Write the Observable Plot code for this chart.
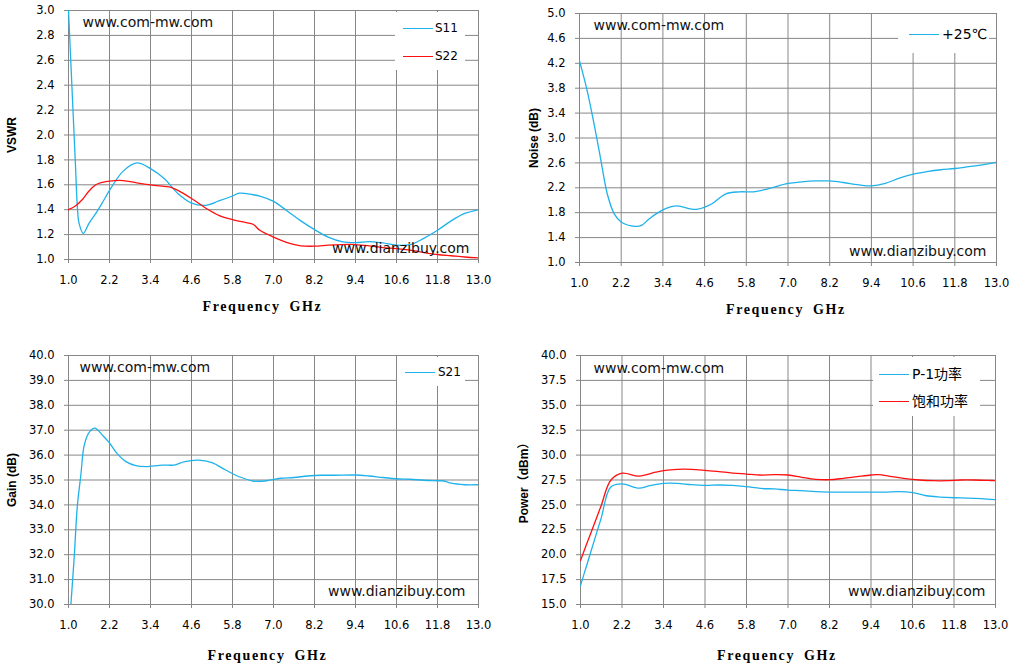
<!DOCTYPE html>
<html>
<head>
<meta charset="utf-8">
<script src="https://cdn.jsdelivr.net/npm/d3@7"></script>
<script src="https://cdn.jsdelivr.net/npm/@observablehq/plot@0.6"></script>
<style>
  html, body { margin: 0; padding: 0; background: #fff; }
  #root { position: relative; width: 1014px; height: 667px; overflow: hidden; background: #fff; }
  .panel { position: absolute; }
  .legend { position: absolute; background: #fff; }
  .lg-line { position: absolute; height: 0; border-top: 1.3px solid; }
  .lg-text { position: absolute; font-family: "DejaVu Sans", "Noto Sans CJK SC", sans-serif; font-size: 12px; color: #000; line-height: 16px; white-space: nowrap; }
  .lg-text.cjk { font-family: "DejaVu Sans", "Noto Sans CJK SC", sans-serif; font-size: 14px; }
</style>
</head>
<body>
<div id="root"></div>
<script>
// ---------- tick labels ----------
const freqTicks = [1.0, 2.2, 3.4, 4.6, 5.8, 7.0, 8.2, 9.4, 10.6, 11.8, 13.0];
const vswrTicks = [1.0, 1.2, 1.4, 1.6, 1.8, 2.0, 2.2, 2.4, 2.6, 2.8, 3.0];
const noiseTicks = [1.0, 1.4, 1.8, 2.2, 2.6, 3.0, 3.4, 3.8, 4.2, 4.6, 5.0];
const gainTicks = [30, 31, 32, 33, 34, 35, 36, 37, 38, 39, 40];
const powerTicks = [15, 17.5, 20, 22.5, 25, 27.5, 30, 32.5, 35, 37.5, 40];

// ---------- series ----------
const s11Freq = [1.0,1.1,1.2,1.26,1.31,1.43,1.6,1.8,2.0,2.2,2.6,3.0,3.4,3.8,4.2,4.6,5.0,5.4,5.8,6.0,6.4,6.6,7.0,7.4,7.8,8.2,8.6,9.0,9.4,9.8,10.2,10.6,11.0,11.4,11.8,12.2,12.6,13.0];
const s11Vals = [3.0,2.39,1.78,1.42,1.29,1.21,1.29,1.37,1.46,1.555,1.71,1.776,1.73,1.65,1.53,1.453,1.435,1.47,1.51,1.533,1.52,1.51,1.467,1.39,1.31,1.24,1.18,1.144,1.136,1.144,1.133,1.115,1.12,1.17,1.235,1.31,1.37,1.40];

const s22Freq = [1.0,1.2,1.4,1.6,1.8,2.0,2.2,2.6,3.0,3.4,3.8,4.0,4.2,4.6,5.0,5.4,5.8,6.2,6.4,6.6,7.0,7.4,7.8,8.2,8.6,9.0,9.4,9.8,10.2,10.6,11.0,11.4,11.8,12.2,12.6,13.0];
const s22Vals = [1.40,1.43,1.48,1.55,1.60,1.62,1.63,1.634,1.616,1.60,1.587,1.58,1.555,1.49,1.416,1.355,1.32,1.296,1.283,1.235,1.18,1.136,1.11,1.107,1.115,1.12,1.12,1.11,1.096,1.088,1.075,1.056,1.04,1.03,1.02,1.013];

const noiseFreq = [1.0,1.2,1.4,1.6,1.8,2.0,2.2,2.6,2.8,3.0,3.4,3.8,4.2,4.4,4.8,5.2,5.6,6.0,6.4,7.0,7.4,7.8,8.2,8.6,9.0,9.4,9.8,10.2,10.6,11.0,11.4,11.8,12.2,12.6,13.0];
const noiseVals = [4.24,3.81,3.28,2.69,2.10,1.78,1.65,1.58,1.60,1.70,1.846,1.91,1.86,1.857,1.94,2.10,2.135,2.135,2.18,2.27,2.296,2.31,2.31,2.285,2.25,2.23,2.27,2.355,2.42,2.46,2.49,2.51,2.54,2.57,2.61];

const s21Freq = [1.07,1.17,1.26,1.36,1.46,1.61,1.77,2.0,2.2,2.43,2.68,2.97,3.26,3.75,4.08,4.4,4.8,5.2,5.6,6.0,6.4,6.8,7.2,7.6,8.0,8.4,8.8,9.4,9.8,10.2,10.6,11.0,11.4,11.8,12.0,12.2,12.6,13.0];
const s21Vals = [30.0,31.97,33.98,35.18,36.39,36.92,37.08,36.79,36.49,36.05,35.74,35.58,35.54,35.6,35.6,35.74,35.8,35.7,35.4,35.13,34.96,34.97,35.07,35.1,35.16,35.19,35.19,35.2,35.16,35.1,35.05,35.03,34.99,34.97,34.96,34.87,34.81,34.81];

const p1Freq = [1.0,1.2,1.4,1.6,1.87,2.2,2.69,3.0,3.4,3.8,4.2,4.6,5.0,5.4,5.8,6.2,6.6,7.0,7.4,7.8,8.2,9.0,9.8,10.2,10.6,11.0,11.4,11.8,12.2,12.6,13.0];
const p1Vals = [16.9,19.17,21.44,23.7,26.78,27.11,26.68,26.93,27.16,27.16,27.03,26.96,27.0,26.96,26.83,26.66,26.6,26.49,26.43,26.33,26.29,26.29,26.29,26.33,26.23,25.92,25.79,25.72,25.69,25.62,25.52];

const psatFreq = [1.0,1.2,1.4,1.6,1.87,2.2,2.69,3.17,3.4,3.8,4.2,4.6,5.0,5.4,5.8,6.2,6.6,7.0,7.4,7.8,8.2,8.6,9.0,9.4,9.6,10.0,10.4,10.8,11.2,11.6,12.0,12.4,12.8,13.0];
const psatVals = [19.42,21.27,23.1,24.95,27.45,28.18,27.88,28.28,28.44,28.57,28.57,28.47,28.34,28.2,28.1,28.0,28.03,28.0,27.77,27.57,27.53,27.67,27.84,28.0,28.03,27.84,27.63,27.5,27.43,27.43,27.5,27.5,27.46,27.43];

// ---------- text ----------
const xTitle = "Frequency GHz";
const wmTop = "www.com-mw.com";
const wmBottom = "www.dianzibuy.com";

const CYAN = "#1fb2ea";
const RED = "#ff1010";
const GRID = "#878787";

function rows(f, v) { return f.map((x, i) => ({f: x, v: v[i]})); }

const panels = [
  {
    left: 0, top: 0, h: 333, m: [10, 29, 74, 68],
    yTicks: vswrTicks, yLabel: "VSWR", yLabelDx: -56,
    xTitleDx: -11, xTitleDy: 47,
    wmTopD: [14, 12], wmBotD: [-9, -11],
    series: [
      {name: "S11", f: s11Freq, v: s11Vals, color: CYAN},
      {name: "S22", f: s22Freq, v: s22Vals, color: RED}
    ],
    legend: {box: [395, 12, 70, 58], items: [[403, 28], [403, 56]], textX: 435, cjk: false}
  },
  {
    left: 507, top: 0, h: 333, m: [13, 18, 71, 72],
    yTicks: noiseTicks, yLabel: "Noise (dB)", yLabelDx: -45,
    xTitleDx: -2, xTitleDy: 47,
    wmTopD: [14, 12], wmBotD: [-10, -11],
    series: [
      {name: "+25℃", f: noiseFreq, v: noiseVals, color: CYAN}
    ],
    legend: {box: [898, 14, 91, 39], items: [[909, 34]], textX: 942, cjk: true}
  },
  {
    left: 0, top: 334, h: 333, m: [21, 29, 63, 68],
    yTicks: gainTicks, yLabel: "Gain (dB)", yLabelDx: -56,
    xTitleDx: -6, xTitleDy: 51,
    wmTopD: [11, 12], wmBotD: [-13, -13],
    series: [
      {name: "S21", f: s21Freq, v: s21Vals, color: CYAN}
    ],
    legend: {box: [397, 357, 68, 29], items: [[405, 372]], textX: 438, cjk: false}
  },
  {
    left: 507, top: 334, h: 333, m: [21, 19, 63, 73],
    yTicks: powerTicks, yLabel: "Power（dBm）", yLabelDx: -56,
    xTitleDx: -11, xTitleDy: 51,
    wmTopD: [13, 13], wmBotD: [-10, -13],
    series: [
      {name: "P-1功率", f: p1Freq, v: p1Vals, color: CYAN},
      {name: "饱和功率", f: psatFreq, v: psatVals, color: RED}
    ],
    legend: {box: [873, 357, 107, 59], items: [[879, 374], [879, 401]], textX: 912, cjk: true}
  }
];

const root = document.getElementById("root");

for (const p of panels) {
  const yt = p.yTicks;
  const chart = Plot.plot({
    width: 507,
    height: p.h,
    marginTop: p.m[0], marginRight: p.m[1], marginBottom: p.m[2], marginLeft: p.m[3],
    style: {fontFamily: "'DejaVu Sans', sans-serif", fontSize: "11.5px", background: "#fff", color: "#000", overflow: "visible"},
    x: {domain: [freqTicks[0], freqTicks[freqTicks.length - 1]], axis: null},
    y: {domain: [yt[0], yt[yt.length - 1]], axis: null},
    marks: [
      Plot.gridX(freqTicks, {stroke: GRID, strokeOpacity: 1, strokeWidth: 1}),
      Plot.gridY(yt, {stroke: GRID, strokeOpacity: 1, strokeWidth: 1}),
      Plot.frame({stroke: GRID, strokeWidth: 1}),
      Plot.axisX(freqTicks, {tickFormat: d => d.toFixed(1), tickSize: 4, tickPadding: 12, stroke: GRID, fill: "#000", label: null}),
      Plot.axisY(yt, {tickFormat: d => d.toFixed(1), tickSize: 4, tickPadding: 10, stroke: GRID, fill: "#000", label: null}),
      ...p.series.map(s => Plot.line(rows(s.f, s.v), {x: "f", y: "v", stroke: s.color, strokeWidth: 1.3, curve: "catmull-rom", clip: true})),
      Plot.text([wmTop], {text: d => d, frameAnchor: "top-left", lineAnchor: "middle", dx: p.wmTopD[0], dy: p.wmTopD[1], textAnchor: "start", fontSize: 14, fill: "#111"}),
      Plot.text([wmBottom], {text: d => d, frameAnchor: "bottom-right", lineAnchor: "middle", dx: p.wmBotD[0], dy: p.wmBotD[1], textAnchor: "end", fontSize: 14, fill: "#111"}),
      Plot.text([p.yLabel], {text: d => d, frameAnchor: "left", lineAnchor: "middle", dx: p.yLabelDx, rotate: -90, textAnchor: "middle", fontWeight: "bold", fontFamily: "'Liberation Sans', 'Noto Sans CJK SC', sans-serif", fontSize: 12, fill: "#000"}),
      Plot.text([xTitle], {text: d => d, frameAnchor: "bottom", lineAnchor: "middle", dx: p.xTitleDx, dy: p.xTitleDy, textAnchor: "middle", fontWeight: "bold", fontFamily: "'Liberation Serif', serif", fontSize: 14, fill: "#000"})
    ]
  });
  d3.select(chart).selectAll("text").filter(function () { return this.textContent === xTitle; })
    .attr("letter-spacing", "1.6px").attr("word-spacing", "4px");
  const wrap = document.createElement("div");
  wrap.className = "panel";
  wrap.style.left = p.left + "px";
  wrap.style.top = p.top + "px";
  wrap.appendChild(chart);
  root.appendChild(wrap);

  // legend (inside the plot area, white box over gridlines)
  const lg = p.legend;
  const box = document.createElement("div");
  box.className = "legend";
  box.style.left = lg.box[0] + "px";
  box.style.top = lg.box[1] + "px";
  box.style.width = lg.box[2] + "px";
  box.style.height = lg.box[3] + "px";
  root.appendChild(box);
  p.series.forEach((s, i) => {
    const [lx, ly] = lg.items[i];
    const line = document.createElement("div");
    line.className = "lg-line";
    line.style.left = lx + "px";
    line.style.top = ly + "px";
    line.style.width = "30px";
    line.style.borderTopColor = s.color;
    root.appendChild(line);
    const t = document.createElement("div");
    t.className = "lg-text" + (lg.cjk ? " cjk" : "");
    t.textContent = s.name;
    t.style.left = lg.textX + "px";
    t.style.top = (ly - 8) + "px";
    root.appendChild(t);
  });
}
</script>
</body>
</html>
